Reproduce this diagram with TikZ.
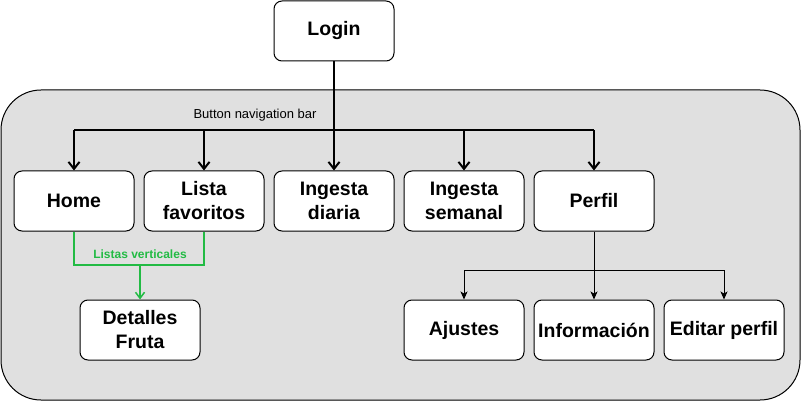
\documentclass[tikz,border=0pt]{standalone}
\usepackage{fontspec}
\setmainfont{Liberation Sans}
\usetikzlibrary{arrows.meta}
\definecolor{panel}{HTML}{E0E0E0}
\definecolor{grn}{HTML}{22BB44}
\tikzset{
  box/.style={draw=black, fill=white, rounded corners=8pt, line width=1pt,
    minimum width=120pt, minimum height=60pt, align=center,
    font=\fontsize{19.5}{24}\selectfont\bfseries, inner sep=1pt},
  thick conn/.style={line width=2pt, -{Straight Barb[length=7pt,width=11pt,line width=2pt]}},
  thin conn/.style={line width=1pt, -{Stealth[length=8pt,width=7pt,inset=2pt]}},
  green conn/.style={draw=grn, line width=1.5pt, -{Straight Barb[length=6pt,width=9pt,line width=1.5pt]}},
}
\begin{document}
\begin{tikzpicture}[x=1pt,y=-1pt]
\useasboundingbox (0,0) rectangle (801,401);
\draw[fill=panel, line width=1pt, rounded corners=40pt] (1,90) rectangle (800,400);

\node[box] (login) at (334,31) {Login};
\node[box] (home) at (74,201) {Home};
\node[box] (lista) at (204,201) {Lista\\favoritos};
\node[box] (diaria) at (334,201) {Ingesta\\diaria};
\node[box] (semanal) at (464,201) {Ingesta\\semanal};
\node[box] (perfil) at (594,201) {Perfil};
\node[box] (detalles) at (140,330) {Detalles\\Fruta};
\node[box] (ajustes) at (464,330) {Ajustes};
\node[box] (info) at (594,330) {Información};
\node[box] (editar) at (724,330) {Editar perfil};

\coordinate (bus) at (334,130);
\node[font=\fontsize{13}{15}\selectfont] (busl) at (255,115) {Button navigation bar};

\draw[line width=2pt] (login.south) -- (bus);
\draw[line width=2pt] (home.north |- bus) -- (perfil.north |- bus);
\draw[thick conn] (bus) -- (diaria.north);
\draw[thick conn] (home.north |- bus) -- (home.north);
\draw[thick conn] (lista.north |- bus) -- (lista.north);
\draw[thick conn] (semanal.north |- bus) -- (semanal.north);
\draw[thick conn] (perfil.north |- bus) -- (perfil.north);

\coordinate (gbus) at (140,265);
\draw[draw=grn, line width=1.5pt] (home.south) -- (home.south |- gbus) -- (lista.south |- gbus) -- (lista.south);
\draw[green conn] (gbus) -- (detalles.north);
\node[text=grn, font=\fontsize{12}{14}\selectfont\bfseries] (gl) at (140,254) {Listas verticales};

\coordinate (pbus) at (594,270);
\draw[line width=1pt] (ajustes.north |- pbus) -- (editar.north |- pbus);
\draw[thin conn] (perfil.south) -- (info.north);
\draw[thin conn] (ajustes.north |- pbus) -- (ajustes.north);
\draw[thin conn] (editar.north |- pbus) -- (editar.north);
\end{tikzpicture}
\end{document}
